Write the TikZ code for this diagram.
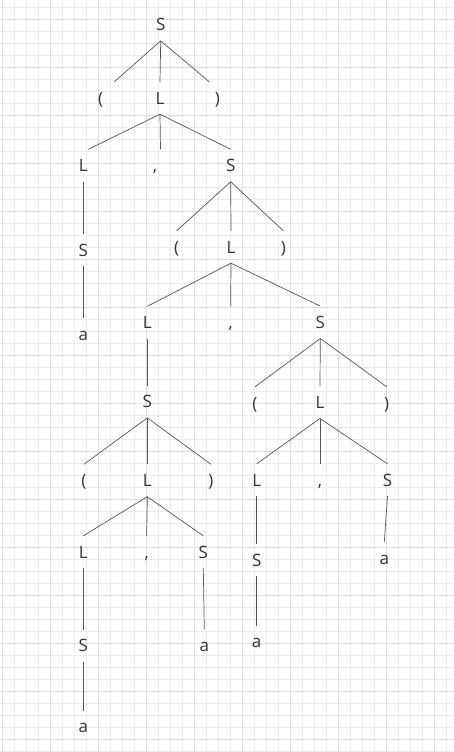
\documentclass[tikz,border=0pt]{standalone}
\usepackage{fontspec}
\setmainfont{Open Sans}
\usepackage{tikz}
\usepackage{xcolor}
\definecolor{gridminor}{RGB}{236,236,236}
\definecolor{gridmajor}{RGB}{221,221,221}
\definecolor{symtext}{RGB}{51,51,51}
\definecolor{edgegray}{RGB}{85,85,85}

\begin{document}
\begin{tikzpicture}[x=1pt, y=-1pt,
  sym/.style={inner sep=0pt, minimum height=32pt, text height=12pt, text depth=0pt, text=symtext, font=\fontsize{17}{20}\selectfont},
  link/.style={draw=edgegray, line width=0.7pt}]
\useasboundingbox (0,0) rectangle (454,752);
\fill[white] (0,0) rectangle (454,752);
% grid
\foreach \i in {0,...,37} \draw[gridminor, line width=0.8pt] ({2.7+12*\i},0) -- ({2.7+12*\i},752);
\foreach \j in {0,...,62} \draw[gridminor, line width=0.8pt] (0,{7.3+12*\j}) -- (454,{7.3+12*\j});
\foreach \i in {0,...,9} \draw[gridmajor, line width=0.8pt] ({2.7+48*\i},0) -- ({2.7+48*\i},752);
\foreach \j in {0,...,15} \draw[gridmajor, line width=0.8pt] (0,{19.3+48*\j}) -- (454,{19.3+48*\j});

% symbols
\node[sym] (s0) at (160.7,24.7) {S};
\node[sym] (p1) at (100.7,98) {(};
\node[sym] (l1) at (160,98) {L};
\node[sym] (q1) at (217.3,98) {)};
\node[sym] (l2) at (83.3,165.5) {L};
\node[sym] (c2) at (155,165.5) {,};
\node[sym] (s2) at (230.7,165.5) {S};
\node[sym] (s3) at (83.3,250) {S};
\node[sym] (a4) at (83.3,334) {a};
\node[sym] (p3) at (176.7,247) {(};
\node[sym] (l3) at (231,247) {L};
\node[sym] (q3) at (283.3,247) {)};
\node[sym] (l4) at (147.3,322.5) {L};
\node[sym] (c4) at (230.7,322.5) {,};
\node[sym] (s4) at (320.3,322.3) {S};
\node[sym] (s5) at (147.3,401.7) {S};
\node[sym] (p6) at (84,480.5) {(};
\node[sym] (l6) at (147.3,480.5) {L};
\node[sym] (q6) at (211,480.5) {)};
\node[sym] (l7) at (83.3,552) {L};
\node[sym] (c7) at (146.7,552) {,};
\node[sym] (s7) at (203.3,552) {S};
\node[sym] (s8) at (83.3,645.7) {S};
\node[sym] (a8) at (204.3,645.5) {a};
\node[sym] (a9) at (83.3,726.7) {a};
\node[sym] (p5) at (255,403) {(};
\node[sym] (l5) at (320,402.3) {L};
\node[sym] (q5) at (386.7,403) {)};
\node[sym] (l6r) at (256.7,480) {L};
\node[sym] (c6r) at (320,480) {,};
\node[sym] (s6r) at (387.5,480) {S};
\node[sym] (s7r) at (256.7,560) {S};
\node[sym] (a7r) at (384.3,558) {a};
\node[sym] (a8r) at (256.7,641.7) {a};

% branches
\draw[link] (s0.south) -- ([xshift=13.5pt]p1.north);
\draw[link] (s0.south) -- (l1.north);
\draw[link] (s0.south) -- ([xshift=-8pt]q1.north);
\draw[link] (l1.south) -- ([xshift=5pt]l2.north);
\draw[link] (l1.south) -- ([xshift=5.5pt]c2.north);
\draw[link] (l1.south) -- (s2.north);
\draw[link] (l2.south) -- (s3.north);
\draw[link] (s3.south) -- (a4.north);
\draw[link] (s2.south) -- (p3.north);
\draw[link] (s2.south) -- (l3.north);
\draw[link] (s2.south) -- (q3.north);
\draw[link] (l3.south) -- (l4.north);
\draw[link] (l3.south) -- (c4.north);
\draw[link] (l3.south) -- (s4.north);
\draw[link] (l4.south) -- (s5.north);
\draw[link] (s5.south) -- (p6.north);
\draw[link] (s5.south) -- (l6.north);
\draw[link] (s5.south) -- (q6.north);
\draw[link] (l6.south) -- (l7.north);
\draw[link] (l6.south) -- (c7.north);
\draw[link] (l6.south) -- (s7.north);
\draw[link] (l7.south) -- (s8.north);
\draw[link] (s8.south) -- (a9.north);
\draw[link] (s7.south) -- (a8.north);
\draw[link] (s4.south) -- (p5.north);
\draw[link] (s4.south) -- (l5.north);
\draw[link] (s4.south) -- (q5.north);
\draw[link] (l5.south) -- (l6r.north);
\draw[link] (l5.south) -- (c6r.north);
\draw[link] (l5.south) -- (s6r.north);
\draw[link] (l6r.south) -- (s7r.north);
\draw[link] (s7r.south) -- (a8r.north);
\draw[link] (s6r.south) -- (a7r.north);
\end{tikzpicture}
\end{document}
